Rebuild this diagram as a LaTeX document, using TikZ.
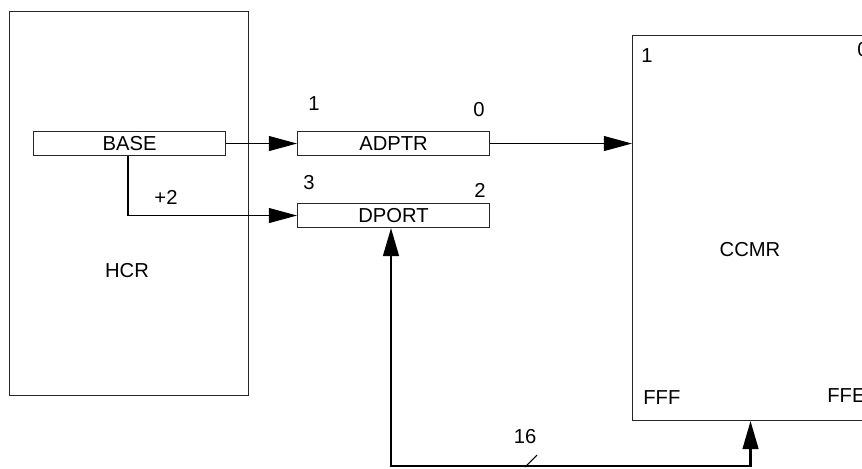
\documentclass[tikz,border=0pt]{standalone}
\usepackage{fontspec}
\setmainfont{Liberation Sans}
\usetikzlibrary{arrows.meta}
\begin{document}
\begin{tikzpicture}[x=0.02cm,y=-0.02cm,
  font=\fontsize{11.5}{13}\selectfont,
  box/.style={draw=black!85, line width=0.6pt, inner sep=0pt, anchor=north west},
  reg/.style={box, minimum width=192*0.02cm, minimum height=24*0.02cm},
  lbl/.style={inner sep=0pt},
  conn/.style={line width=0.6pt, -{Triangle[length=16pt,width=8.5pt]}},
  bus/.style={line width=1.2pt, {Triangle[length=16pt,width=9pt]}-{Triangle[length=16pt,width=9pt]}}
]
\useasboundingbox (0,0) rectangle (862,468);
\clip (0,0) rectangle (862,468);
\fill[white] (0,0) rectangle (862,468);
% boxes
\node[box, minimum width=239*0.02cm, minimum height=384*0.02cm] (hcr) at (9,11) {};
\node[lbl] (hcrt) at (127,271) {HCR};
\node[reg] (base) at (33,131) {};
\node[lbl] at (base.center) {BASE};
\node[reg] (adptr) at (297,131) {};
\node[lbl] at (adptr.center) {ADPTR};
\node[reg] (dport) at (297,203) {};
\node[lbl] at (dport.center) {DPORT};
\node[box, minimum width=236*0.02cm, minimum height=385*0.02cm] (ccmr) at (632,35) {};
\node[lbl] (ccmrt) at (750,250) {CCMR};
% bit labels
\node[lbl] (a1) at (314,104) {1};
\node[lbl] (a0) at (479,110) {0};
\node[lbl] (d3) at (309,183) {3};
\node[lbl] (d2) at (480,190) {2};
\node[lbl] (c1) at (647,56) {1};
\node[lbl, anchor=west] (c0) at (857,50) {0};
\node[lbl, anchor=west] (cfff) at (643,398) {FFF};
\node[lbl, anchor=west] (cffe) at (827,396) {FFE};
\node[lbl] (plus) at (166,197) {+2};
\node[lbl] (n16) at (525,437) {16};
% connectors
\draw[conn] (base.east) -- (adptr.west);
\draw[conn] (base.south -| 128,0) |- (dport.west);
\draw[conn] (adptr.east) -- (ccmr.west |- adptr.east);
\coordinate (busL) at (391,466);
\draw[bus] (dport.south -| busL) -- (busL) -| (ccmr.south);
\coordinate (slA) at (525,467);
\coordinate (slB) at (537,455);
\draw[line width=0.6pt] (slA) -- (slB);
\end{tikzpicture}
\end{document}
